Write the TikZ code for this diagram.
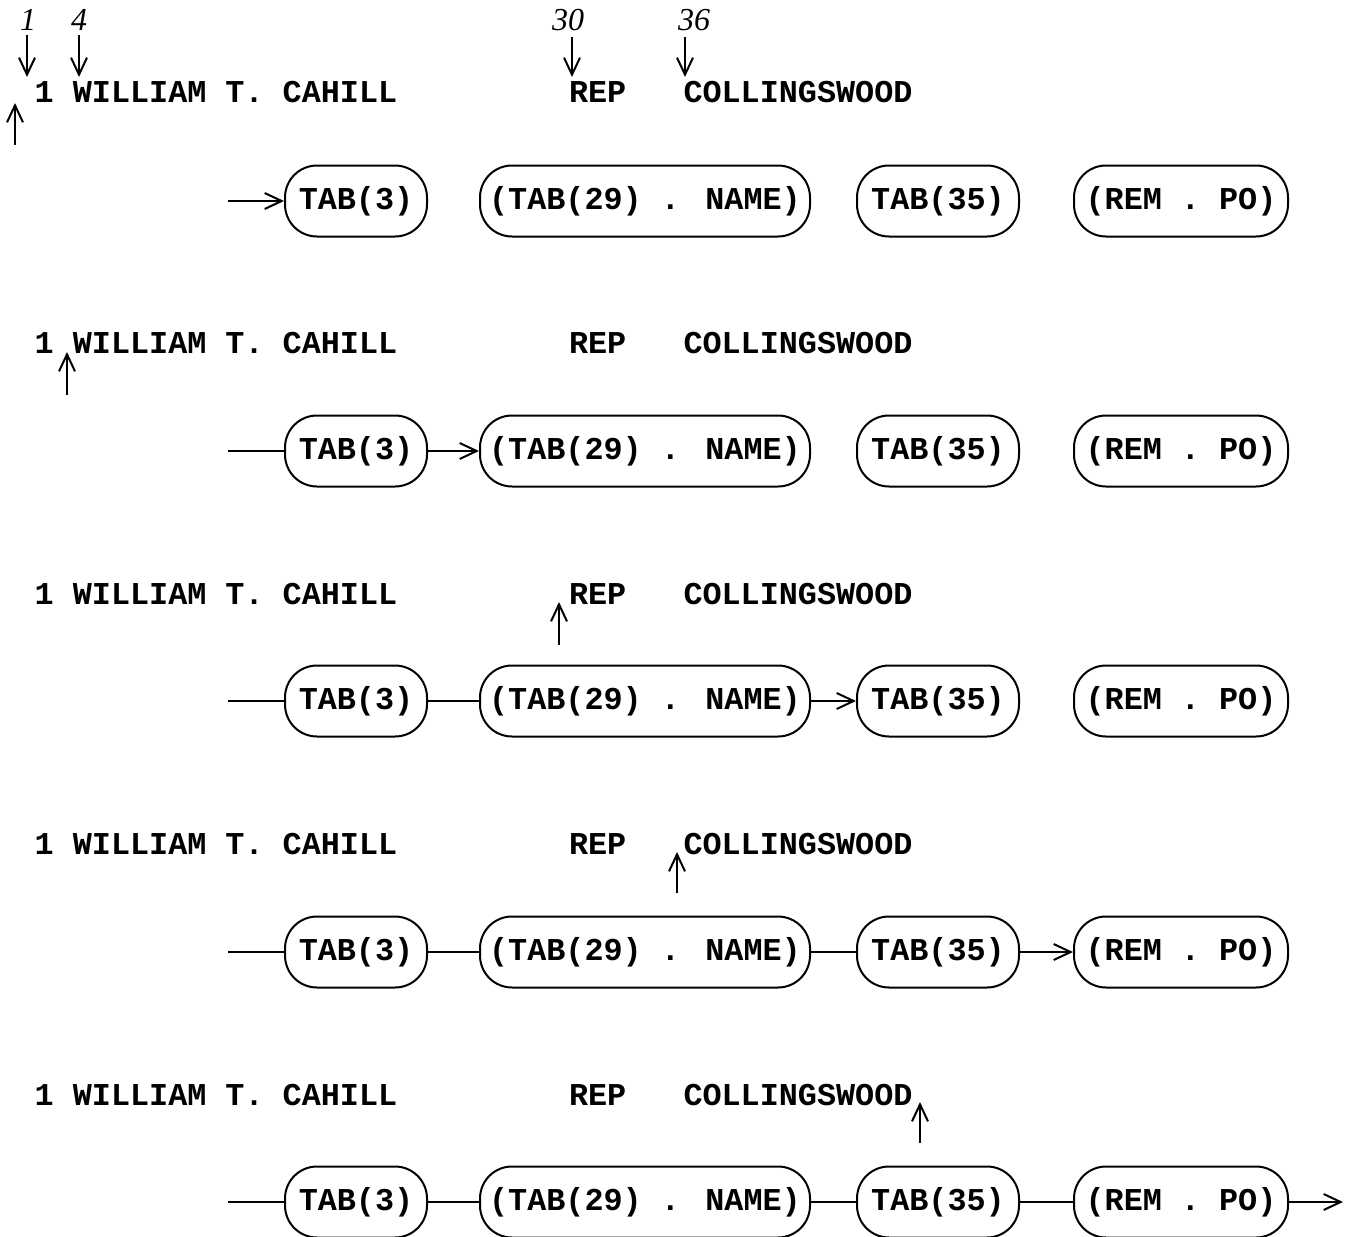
\documentclass[tikz,border=0pt]{standalone}
\usepackage{fontspec}
\newfontfamily\cour{Liberation Mono}
\newfontfamily\tim{Liberation Serif}
\usetikzlibrary{arrows.meta}
\begin{document}
\begin{tikzpicture}[x=0.5pt,y=-0.5pt,
  line width=1pt,
  tip/.style={-{Straight Barb[length=8.5pt,width=8pt]}},
  rec/.style={draw, rounded corners=16pt, minimum height=35.5pt, inner sep=0pt,
    font=\cour\bfseries\fontsize{15.9}{18}\selectfont},
  txt/.style={anchor=base west, inner sep=0pt,
    font=\cour\bfseries\fontsize{15.9}{18}\selectfont},
  num/.style={inner sep=0pt, font=\tim\itshape\fontsize{16}{18}\selectfont}]
\useasboundingbox (0,0) rectangle (1345,1237);

% column labels
\node[num] (n1) at (28,20) {1};
\node[num] (n4) at (79,20) {4};
\node[num] (n30) at (568,20) {30};
\node[num] (n36) at (694,20) {36};
\coordinate (d1a) at (27,35);  \coordinate (d1b) at (27,77);
\coordinate (d4a) at (79,35);  \coordinate (d4b) at (79,77);
\coordinate (d30a) at (572,37); \coordinate (d30b) at (572,77);
\coordinate (d36a) at (685,37); \coordinate (d36b) at (685,77);
\draw[tip] (d1a) -- (d1b);
\draw[tip] (d4a) -- (d4b);
\draw[tip] (d30a) -- (d30b);
\draw[tip] (d36a) -- (d36b);

\foreach \r/\ty/\by in {1/102/201, 2/353/451, 3/604/701, 4/854/952, 5/1105/1202} {
  \node[txt] (line\r) at (33.7,\ty) {1~WILLIAM~T.~CAHILL~~~~~~~~~REP~~~COLLINGSWOOD};
  \node[rec, minimum width=71pt] (a\r) at (356,\by) {TAB(3)};
  \node[rec, minimum width=165pt] (b\r) at (645,\by) {(TAB(29) . NAME)};
  \node[rec, minimum width=81pt] (c\r) at (938,\by) {TAB(35)};
  \node[rec, minimum width=107pt] (d\r) at (1181,\by) {(REM . PO)};
  \coordinate (s\r) at (228,\by);
}
\coordinate (e5) at (1343,1202);

% pointers
\coordinate (p1a) at (15,145);  \coordinate (p1b) at (15,103);
\coordinate (p2a) at (67,395);  \coordinate (p2b) at (67,352);
\coordinate (p3a) at (559,645); \coordinate (p3b) at (559,602);
\coordinate (p4a) at (677,893); \coordinate (p4b) at (677,852);
\coordinate (p5a) at (920,1143); \coordinate (p5b) at (920,1102);
\foreach \i in {1,...,5} { \draw[tip] (p\i a) -- (p\i b); }

% row 1
\draw[tip] (s1) -- (a1.west);
% row 2
\draw (s2) -- (a2.west);
\draw[tip] (a2.east) -- (b2.west);
% row 3
\draw (s3) -- (a3.west);
\draw (a3.east) -- (b3.west);
\draw[tip] (b3.east) -- (c3.west);
% row 4
\draw (s4) -- (a4.west);
\draw (a4.east) -- (b4.west);
\draw (b4.east) -- (c4.west);
\draw[tip] (c4.east) -- (d4.west);
% row 5
\draw (s5) -- (a5.west);
\draw (a5.east) -- (b5.west);
\draw (b5.east) -- (c5.west);
\draw (c5.east) -- (d5.west);
\draw[tip] (d5.east) -- (e5);
\end{tikzpicture}
\end{document}
